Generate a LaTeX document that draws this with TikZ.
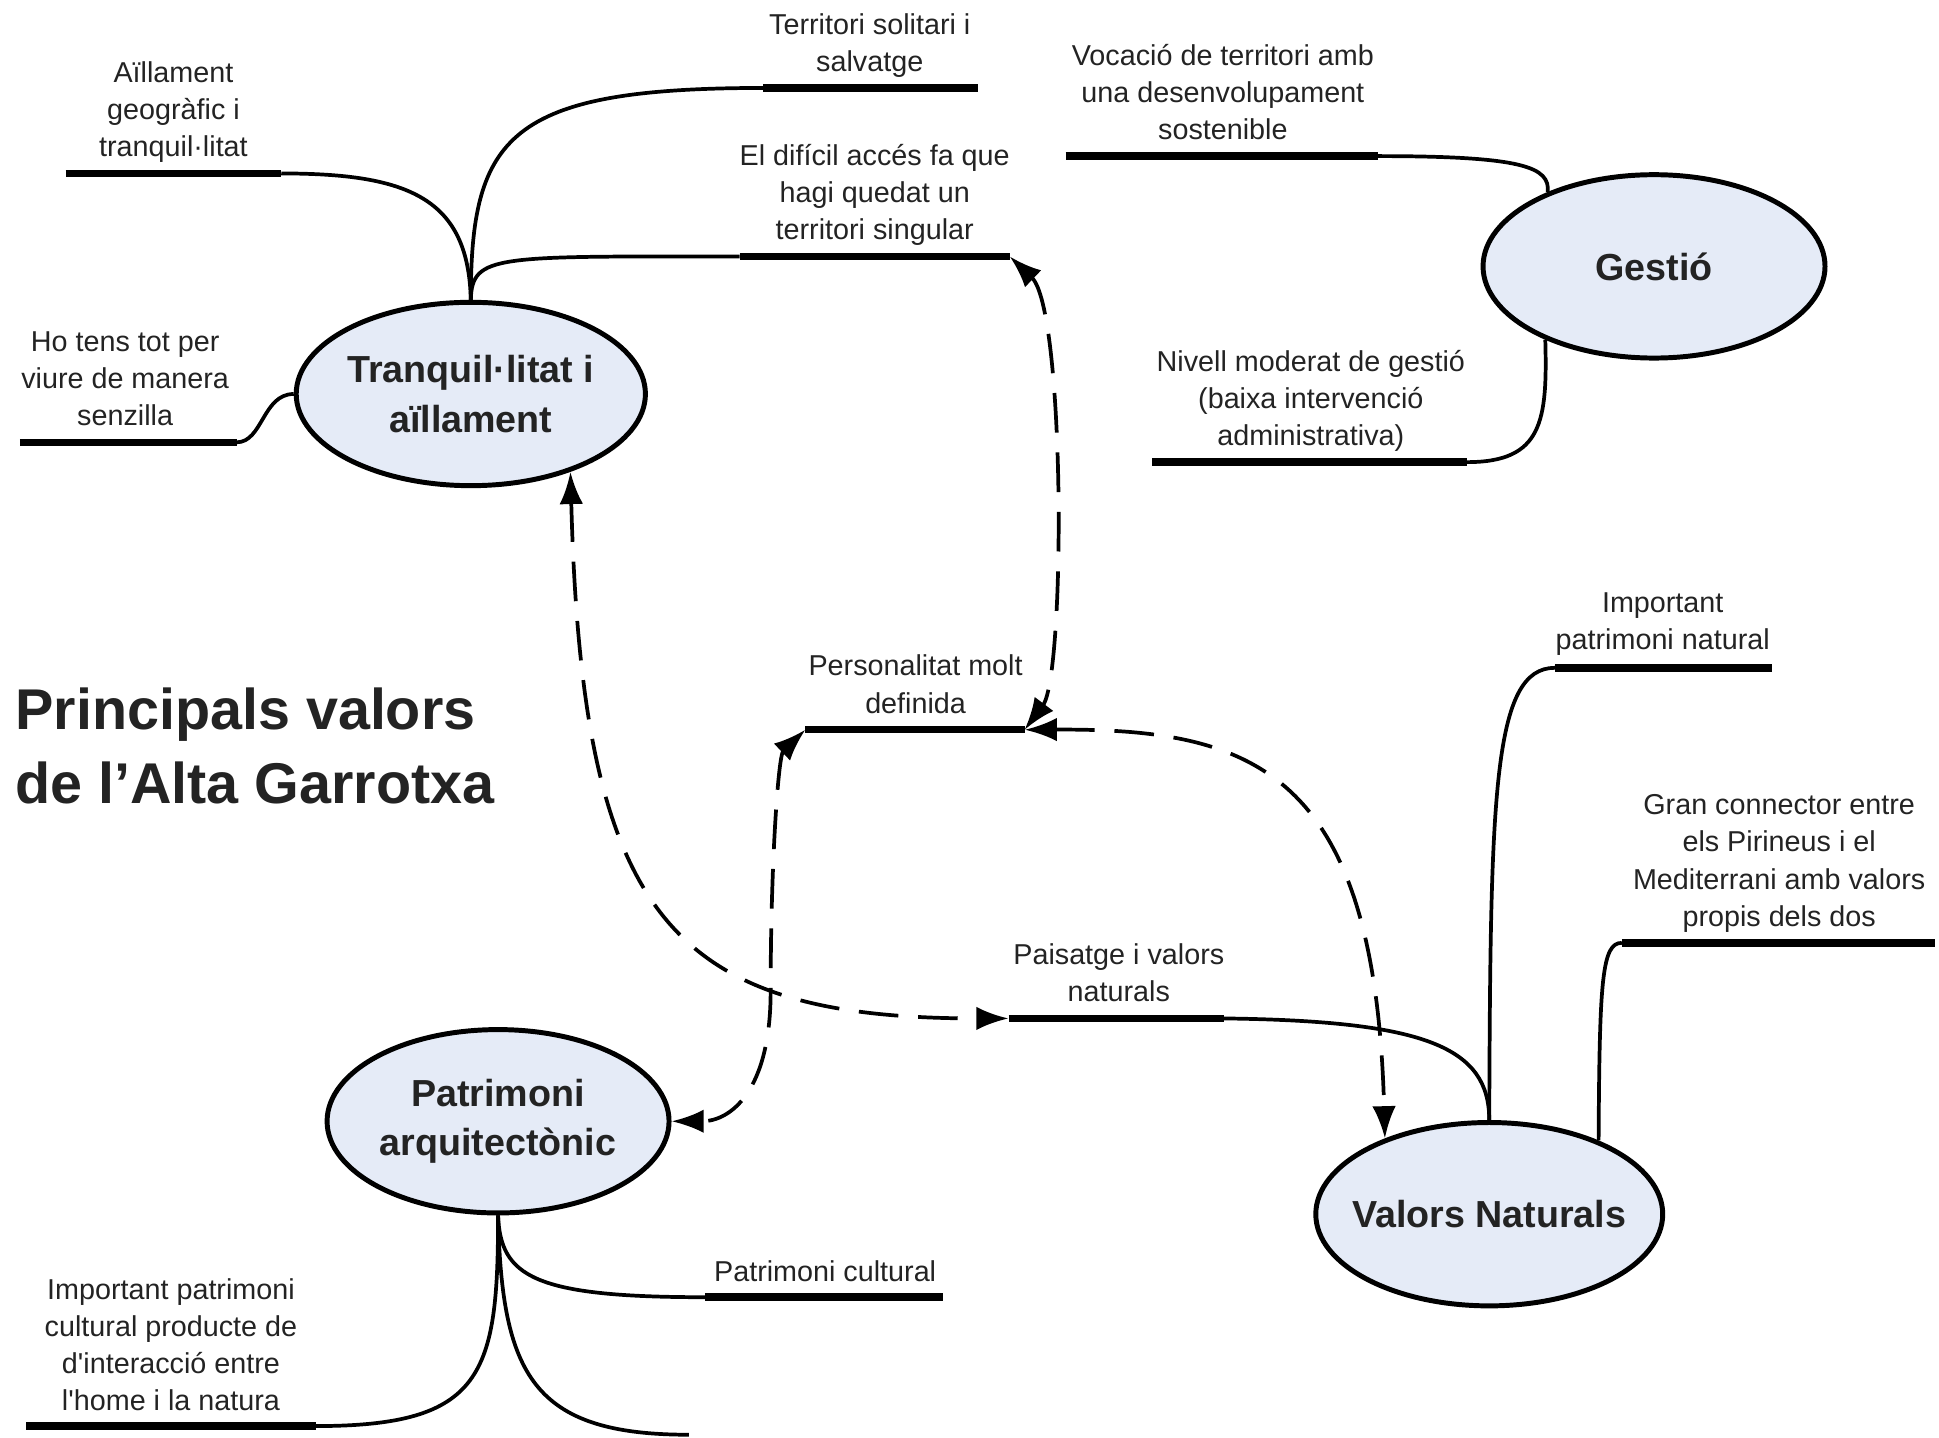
\documentclass[tikz,border=0pt]{standalone}
\usepackage{fontspec}
\setmainfont{Liberation Sans}
\usetikzlibrary{arrows.meta,shapes.geometric}
\definecolor{ideafill}{RGB}{229,235,247}
\definecolor{inkgray}{RGB}{35,35,35}

\begin{document}
\begin{tikzpicture}[x=0.5pt,y=-0.5pt,
  idea/.style={ellipse,draw=black,line width=2pt,fill=ideafill,inner sep=0pt,
    minimum width=138pt,minimum height=74pt,align=center,text=inkgray,
    font=\bfseries\fontsize{15.2}{20}\selectfont},
  lbl/.style={anchor=south,align=center,inner sep=0pt,text depth=3pt,text=inkgray,
    font=\fontsize{11.6}{15}\selectfont},
  bar/.style={line width=3pt},
  twig/.style={line width=1.5pt},
  link/.style={line width=1.5pt,dash pattern=on 16pt off 8pt,
    {Latex[length=13pt,width=9.5pt]}-{Latex[length=13pt,width=9.5pt]}}]
\useasboundingbox (0,0) rectangle (1565,1160);

% main ideas
\node[idea] (tranq) at (380,318) {Tranquil·litat i\\aïllament};
\node[idea] (gestio) at (1335,215) {Gestió};
\node[idea] (patrim) at (402,905) {Patrimoni\\arquitectònic};
\node[idea,minimum width=140pt,inner xsep=-14pt] (valors) at (1202,980) {Valors Naturals};

\node[anchor=west,align=left,inner sep=0pt,text=inkgray,
  font=\bfseries\fontsize{23.2}{30}\selectfont] (title) at (12,602)
  {Principals valors\\de l’Alta Garrotxa};

% labels
\node[lbl] (ailla) at (140,133) {Aïllament\\geogràfic i\\tranquil·litat};
\node[lbl] (solit) at (702,64) {Territori solitari i\\salvatge};
\node[lbl] (dific) at (706,200) {El difícil accés fa que\\hagi quedat un\\territori singular};
\node[lbl] (hoten) at (101,350) {Ho tens tot per\\viure de manera\\senzilla};
\node[lbl] (vocac) at (987,119) {Vocació de territori amb\\una desenvolupament\\sostenible};
\node[lbl] (nivel) at (1058,366) {Nivell moderat de gestió\\(baixa intervenció\\administrativa)};
\node[lbl] (perso) at (739,582) {Personalitat molt\\definida};
\node[lbl] (paisa) at (903,815) {Paisatge i valors\\naturals};
\node[lbl] (impor) at (1342,531) {Important\\patrimoni natural};
\node[lbl] (grand) at (1436,754) {Gran connector entre\\els Pirineus i el\\Mediterrani amb valors\\propis dels dos};
\node[lbl] (pcult) at (666,1041) {Patrimoni cultural};
\node[lbl] (ipcul) at (138,1145) {Important patrimoni\\cultural producte de\\d\textquotesingle interacció entre\\l\textquotesingle home i la natura};

% bar ends
\coordinate (aillaL) at (53,140);   \coordinate (aillaR) at (227,140);
\coordinate (solitL) at (616,71);   \coordinate (solitR) at (789,71);
\coordinate (dificL) at (597,207);  \coordinate (dificR) at (815,207);
\coordinate (hotenL) at (16,357);   \coordinate (hotenR) at (191,357);
\coordinate (vocacL) at (860,126);  \coordinate (vocacR) at (1112,126);
\coordinate (nivelL) at (930,373);  \coordinate (nivelR) at (1184,373);
\coordinate (persoL) at (650,589);  \coordinate (persoR) at (827,589);
\coordinate (paisaL) at (814,822);  \coordinate (paisaR) at (988,822);
\coordinate (imporL) at (1255,539); \coordinate (imporR) at (1430,539);
\coordinate (grandL) at (1309,761); \coordinate (grandR) at (1562,761);
\coordinate (pcultL) at (569,1047); \coordinate (pcultR) at (761,1047);
\coordinate (ipculL) at (21,1151);  \coordinate (ipculR) at (255,1151);
\coordinate (lowend) at (556,1158);

\foreach \b in {ailla,solit,dific,hoten,vocac,nivel,perso,paisa,impor,grand,pcult,ipcul}
  \draw[bar] (\b L) -- (\b R);

% branches
\draw[twig] (aillaR) .. controls (330,140) and (378,160) .. (tranq.north);
\draw[twig] (tranq.north) .. controls (380,110) and (410,71) .. (solitL);
\draw[twig] (tranq.north) .. controls (381,205) and (400,207) .. (dificL);
\draw[twig] (hotenR) .. controls (212,357) and (212,318) .. (tranq.west);
\draw[twig] (vocacR) .. controls (1230,126) and (1251,135) .. (gestio.145);
\draw[twig] (nivelR) .. controls (1245,373) and (1249,340) .. (gestio.214);
\draw[twig] (paisaR) .. controls (1150,824) and (1202,845) .. (valors.north);
\draw[twig] (valors.north) .. controls (1203,640) and (1205,539) .. (imporL);
\draw[twig] (valors.34) .. controls (1291,790) and (1293,761) .. (grandL);
\draw[twig] (patrim.south) .. controls (404,1030) and (430,1047) .. (pcultL);
\draw[twig] (patrim.south) .. controls (402,1110) and (390,1151) .. (ipculR);
\draw[twig] (patrim.south) .. controls (405,1110) and (430,1158) .. (lowend);

% dashed links
\draw[link] (tranq.-38) .. controls (470,740) and (540,822) .. (paisaL);
\draw[link] (dificR) .. controls (860,250) and (860,545) .. (persoR);
\draw[link] (persoR) .. controls (1010,588) and (1110,620) .. (valors.144);
\draw[link] (persoL) .. controls (628,610) and (622,700) .. (622,800)
  .. controls (622,880) and (590,905) .. (patrim.east);
\end{tikzpicture}
\end{document}
